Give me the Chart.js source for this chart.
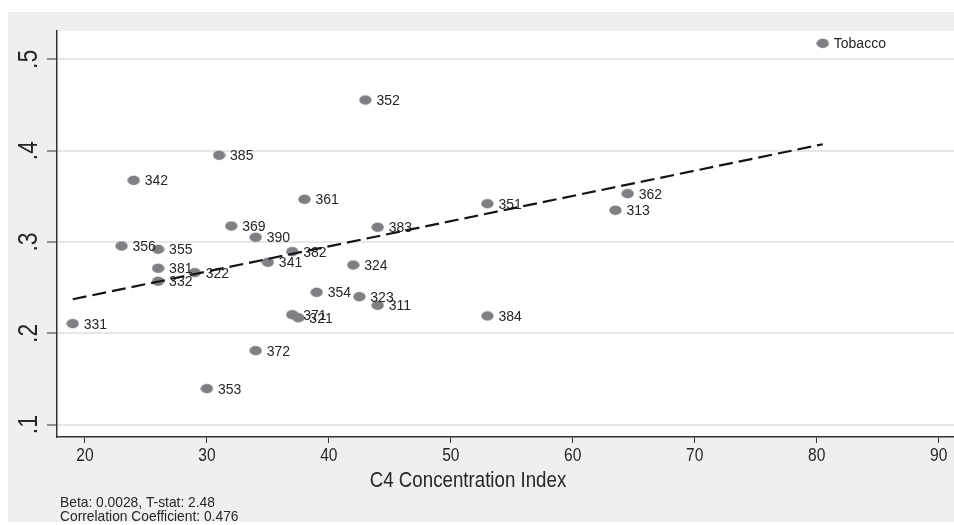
<!DOCTYPE html>
<html>
<head>
<meta charset="utf-8">
<script src="https://cdn.jsdelivr.net/npm/chart.js@4.4.1/dist/chart.umd.min.js"></script>
<style>
  html, body { margin: 0; padding: 0; background: #ffffff; }
  #wrap { width: 954px; height: 525px; position: relative; }
</style>
</head>
<body>
<div id="wrap"><canvas id="c" width="954" height="525"></canvas></div>
<script>
// ---- data ----
const categories = ['331','356','342','355','381','332','322','353','385','369','372','390','341','371','382','321','361','354','324','323','352','383','311','351','384','313','362','Tobacco'];
const c4Index    = [19, 23, 24, 26, 26, 26, 29, 30, 31, 32, 34, 34, 35, 37, 37, 37.5, 38, 39, 42, 42.5, 43, 44, 44, 53, 53, 63.5, 64.5, 80.5];
const shareValues = [0.2106, 0.2956, 0.3675, 0.2920, 0.2712, 0.2570, 0.2664, 0.1394, 0.3949, 0.3175, 0.1810, 0.3051, 0.2778, 0.2204, 0.2894, 0.2170, 0.3467, 0.2449, 0.2748, 0.2401, 0.4554, 0.3161, 0.2307, 0.3419, 0.2190, 0.3347, 0.3529, 0.5175];
const fitX = [19, 80.5];
const fitY = [0.2373, 0.4070];
const xTicks = [20, 30, 40, 50, 60, 70, 80, 90];
const xTickLabels = ['20', '30', '40', '50', '60', '70', '80', '90'];
const yTicks = [0.1, 0.2, 0.3, 0.4, 0.5];
const yTickLabels = ['.1', '.2', '.3', '.4', '.5'];
const xTitle = 'C4 Concentration Index';
const notes = ['Beta: 0.0028, T-stat: 2.48', 'Correlation Coefficient: 0.476'];

const SANS = '"Liberation Sans", Arial, Helvetica, sans-serif';
const TEXT = '#262626';
const BG = '#eef0f0';

// ellipse marker
const marker = document.createElement('canvas');
marker.width = 13; marker.height = 11;
(function(){
  const m = marker.getContext('2d');
  m.fillStyle = '#7e7f82';
  m.beginPath();
  m.ellipse(6.5, 5.5, 6.2, 4.7, 0, 0, Math.PI * 2);
  m.fill();
})();

const scatterPts = categories.map((c, i) => ({ x: c4Index[i], y: shareValues[i] }));
const fitPts = fitX.map((x, i) => ({ x: x, y: fitY[i] }));

// draws condensed text (horizontal squeeze) at x,y in current frame
function narrowText(ctx, str, x, y, size, sx, align) {
  ctx.save();
  ctx.font = size + 'px ' + SANS;
  ctx.translate(x, y);
  ctx.scale(sx, 1);
  ctx.textAlign = align;
  ctx.fillText(str, 0, 0);
  ctx.restore();
}

const decor = {
  id: 'decor',
  beforeDraw(chart) {
    const ctx = chart.ctx;
    const a = chart.chartArea;
    ctx.save();
    ctx.fillStyle = '#ffffff';
    ctx.fillRect(0, 0, chart.width, chart.height);
    ctx.fillStyle = BG;
    ctx.fillRect(8, 12, chart.width - 8, 510);
    ctx.fillStyle = '#ffffff';
    ctx.fillRect(a.left, a.top, a.right - a.left, a.bottom - a.top);
    ctx.restore();
  },
  afterDatasetDraw(chart, args) {
    if (args.index !== 1) return;
    const ctx = chart.ctx;
    ctx.save();
    ctx.font = '14px ' + SANS;
    ctx.fillStyle = TEXT;
    ctx.textAlign = 'left';
    ctx.textBaseline = 'middle';
    args.meta.data.forEach((el, i) => {
      ctx.fillText(categories[i], el.x + 11, el.y + 1);
    });
    ctx.restore();
  },
  afterDraw(chart) {
    const ctx = chart.ctx;
    const ys = chart.scales.y;
    const xs = chart.scales.x;
    ctx.save();
    ctx.fillStyle = TEXT;
    ctx.textBaseline = 'alphabetic';
    // y tick labels, rotated
    yTicks.forEach((v, i) => {
      const py = ys.getPixelForValue(v);
      ctx.save();
      ctx.translate(37, py);
      ctx.rotate(-Math.PI / 2);
      narrowText(ctx, yTickLabels[i], 0, 0, 27, 0.85, 'center');
      ctx.restore();
    });
    // x tick labels
    xTicks.forEach((v, i) => {
      const px = xs.getPixelForValue(v);
      narrowText(ctx, xTickLabels[i], px, 461, 19, 0.82, 'center');
    });
    narrowText(ctx, xTitle, 468, 487, 22, 0.85, 'center');
    narrowText(ctx, notes[0], 60, 507, 15, 0.92, 'left');
    narrowText(ctx, notes[1], 60, 521, 15, 0.92, 'left');
    ctx.restore();
  }
};

new Chart(document.getElementById('c'), {
  type: 'scatter',
  data: {
    datasets: [
      {
        type: 'line',
        label: 'fit',
        data: fitPts,
        borderColor: '#151515',
        borderWidth: 2.2,
        borderDash: [14, 6],
        pointRadius: 0,
        fill: false,
        tension: 0
      },
      {
        label: 'share',
        data: scatterPts,
        pointStyle: marker,
        pointRadius: 6,
        backgroundColor: '#7e7f82',
        borderColor: '#7e7f82'
      }
    ]
  },
  options: {
    responsive: false,
    animation: false,
    devicePixelRatio: 1,
    layout: { autoPadding: false, padding: { top: 31, left: 0, right: 0, bottom: 0 } },
    plugins: { legend: { display: false }, tooltip: { enabled: false } },
    scales: {
      x: {
        type: 'linear',
        min: 17.71,
        max: 91.26,
        afterBuildTicks(s) { s.ticks = xTicks.map(v => ({ value: v })); },
        afterFit(s) { s.height = 88; },
        grid: { drawOnChartArea: false, drawTicks: true, tickLength: 6, tickColor: '#333333', tickWidth: 1 },
        border: { display: true, color: '#333333', width: 1.5 },
        ticks: { display: false }
      },
      y: {
        type: 'linear',
        min: 0.0865,
        max: 0.531,
        afterBuildTicks(s) { s.ticks = yTicks.map(v => ({ value: v })); },
        afterFit(s) { s.width = 57; },
        grid: { color: '#e6e8e8', lineWidth: 2, drawTicks: true, tickLength: 10, tickColor: '#333333', tickWidth: 1 },
        border: { display: true, color: '#333333', width: 1.5 },
        ticks: { display: false }
      }
    }
  },
  plugins: [decor]
});
</script>
</body>
</html>
